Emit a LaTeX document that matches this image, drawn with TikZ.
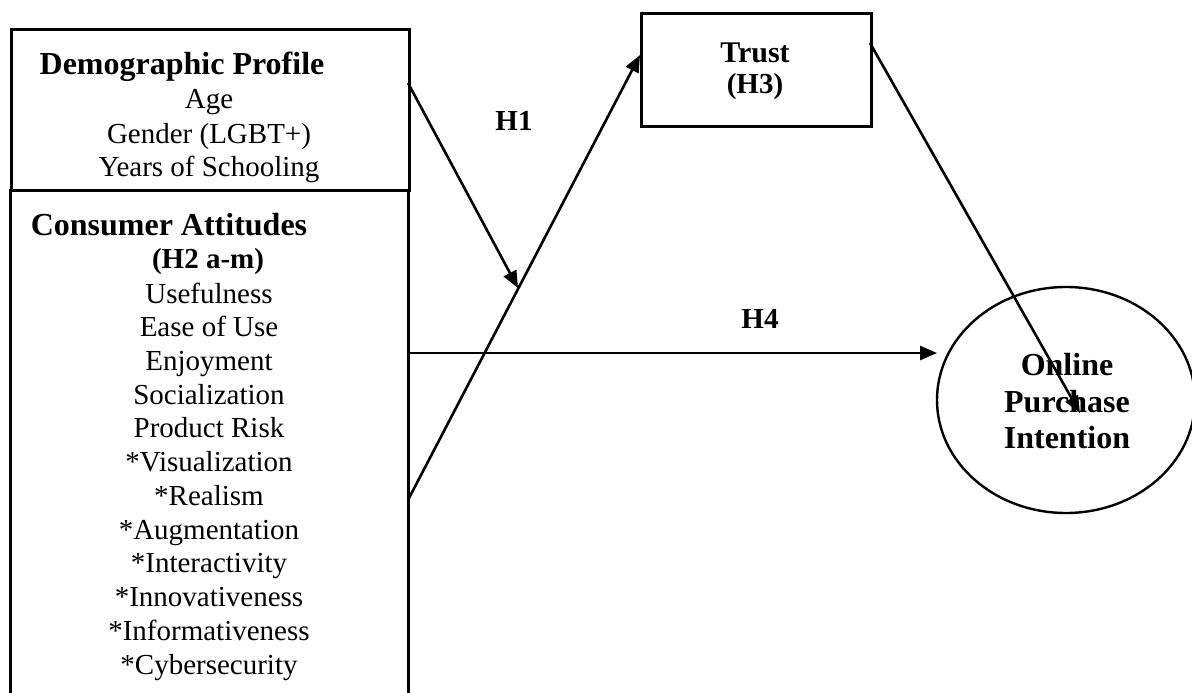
\documentclass[tikz,border=0pt]{standalone}
\usepackage{fontspec}
\setmainfont{Liberation Serif}
\usetikzlibrary{arrows.meta,shapes.geometric}
\tikzset{
  boxline/.style={draw=black, line width=3pt},
  conn/.style={draw=black, line width=2.6pt, -{Triangle[length=17pt,width=14pt]}},
  plain/.style={font=\fontsize{29}{34}\selectfont, inner sep=0pt, anchor=base},
  head/.style={font=\fontsize{32}{36}\selectfont\bfseries, inner sep=0pt, anchor=base},
  lab/.style={font=\fontsize{29}{34}\selectfont\bfseries, inner sep=0pt, anchor=base},
}
\begin{document}
\begin{tikzpicture}[x=1pt,y=-1pt]
\useasboundingbox (0,0) rectangle (1192,693);
\fill[white] (0,0) rectangle (1192,693);

% left boxes
\node[boxline, anchor=north west, minimum width=398pt, minimum height=161pt, inner sep=0pt] (demo) at (10,28) {};
\node[anchor=north west, minimum width=398pt, minimum height=530pt, inner sep=0pt] (cons) at (10,189) {};
\draw[line width=3pt] (cons.south west) -- (cons.north west);
\draw[line width=3pt] (cons.north east) -- (cons.south east);

% demographic texts
\node[head] (demohead) at (182,75) {Demographic Profile};
\node[plain] (age) at (209,109) {Age};
\node[plain] (gender) at (209,143) {Gender (LGBT+)};
\node[plain] (years) at (209,176) {Years of Schooling};

% consumer attitudes texts
\node[head] (conshead) at (169,235) {Consumer Attitudes};
\node[lab] (h2) at (208,268) {(H2 a-m)};
\foreach \t [count=\i] in {Usefulness,Ease of Use,Enjoyment,Socialization,Product Risk,*Visualization,*Realism,*Augmentation,*Interactivity,*Innovativeness,*Informativeness,*Cybersecurity}
  \node[plain] (attr\i) at (209,{303+33.73*(\i-1)}) {\t};

% trust box
\node[boxline, anchor=north west, minimum width=230pt, minimum height=113pt, inner sep=0pt] (trust) at (640,12) {};
\node[head, font=\fontsize{30}{34}\selectfont\bfseries] (trusttxt) at (755,63) {Trust};
\node[lab] (h3) at (755,93) {(H3)};

% outcome ellipse
\node[ellipse, draw=black, line width=2.4pt, minimum width=258pt, minimum height=226pt, inner sep=0pt] (opi) at (1066,400) {};
\node[head] (opi1) at (1067,375) {Online};
\node[head] (opi2) at (1067,412) {Purchase};
\node[head] (opi3) at (1067,448) {Intention};

% labels
\node[lab] (lh1) at (514,130) {H1};
\node[lab] (lh4) at (760,328) {H4};

% connector end points
\coordinate (s1) at (408,83);
\coordinate (h1tip) at (518,288);
\coordinate (s2) at (408,500);
\coordinate (t2) at (640,55);
\coordinate (s3) at (408,353);
\coordinate (e3) at (937,353);
\coordinate (s4) at (870,43);
\coordinate (e4) at (1080,413);

\draw[conn] (s2) -- (t2);
\draw[conn] (s1) -- (h1tip);
\draw[conn] (s3) -- (e3);
\draw[conn] (s4) -- (e4);
\end{tikzpicture}
\end{document}
